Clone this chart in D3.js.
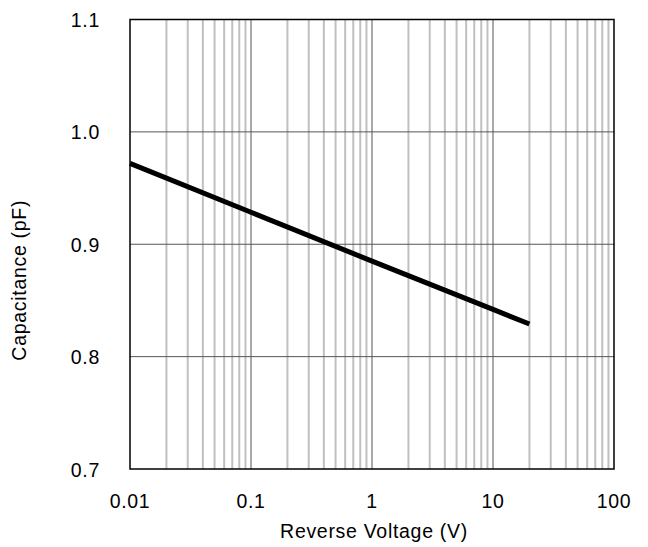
<!DOCTYPE html>
<html>
<head>
<meta charset="utf-8">
<script src="https://cdn.jsdelivr.net/npm/d3@7"></script>
<style>
  body { margin: 0; background: #fff; }
  svg text { font-family: "Liberation Sans", Arial, sans-serif; fill: #000; font-size: 19.5px; letter-spacing: 0.7px; }
</style>
</head>
<body>
<div class="js-vis"></div>
<script>
// curve
const voltage = [0.01, 0.1, 1, 10, 20]
const capacitance = [0.972, 0.9285, 0.885, 0.842, 0.829]

const xTicks = [0.01, 0.1, 1, 10, 100]
const xTickLabels = ['0.01', '0.1', '1', '10', '100']
const yTicks = [0.7, 0.8, 0.9, 1.0, 1.1]
const yTickLabels = ['0.7', '0.8', '0.9', '1.0', '1.1']

const W = 648, H = 547
const margin = { top: 19.5, right: 34, bottom: 78, left: 130 },
    width = W - margin.left - margin.right,
    height = H - margin.top - margin.bottom

const svg = d3.select('.js-vis').append('svg')
    .attr('width', W)
    .attr('height', H)

const vis = svg.append('g')
    .attr('transform', 'translate(' + margin.left + ',' + margin.top + ')')

const x = d3.scaleLog()
  .domain([0.01, 100])
  .range([0, width])

const y = d3.scaleLinear()
  .domain([0.7, 1.1])
  .range([height, 0])

// minor vertical grid
let minor = []
xTicks.slice(0, -1).forEach(function(d) {
  for (let k = 2; k <= 9; k++) minor.push(d * k)
})

vis.selectAll('.minor')
  .data(minor)
.enter().append('line')
  .attr('class', 'minor')
  .attr('x1', d => x(d)).attr('x2', d => x(d))
  .attr('y1', 0).attr('y2', height)
  .attr('stroke', '#c0c0c0')
  .attr('stroke-width', 2)

vis.selectAll('.vmajor')
  .data(xTicks.slice(1, -1))
.enter().append('line')
  .attr('class', 'vmajor')
  .attr('x1', d => x(d)).attr('x2', d => x(d))
  .attr('y1', 0).attr('y2', height)
  .attr('stroke', '#555')
  .attr('stroke-width', 1)

vis.selectAll('.hmajor')
  .data(yTicks.slice(1, -1))
.enter().append('line')
  .attr('class', 'hmajor')
  .attr('x1', 0).attr('x2', width)
  .attr('y1', d => y(d)).attr('y2', d => y(d))
  .attr('stroke', '#555')
  .attr('stroke-width', 1)

// data line
const line = d3.line()
  .x((d, i) => x(voltage[i]))
  .y(d => y(d))

vis.append('path')
  .datum(capacitance)
  .attr('d', line)
  .attr('fill', 'none')
  .attr('stroke', '#000')
  .attr('stroke-width', 5)

// frame
vis.append('rect')
  .attr('width', width)
  .attr('height', height)
  .attr('fill', 'none')
  .attr('stroke', '#000')
  .attr('stroke-width', 1.5)

// tick labels
vis.selectAll('.xlab')
  .data(xTicks)
.enter().append('text')
  .attr('x', d => x(d))
  .attr('y', height + 39)
  .attr('text-anchor', 'middle')
  .text((d, i) => xTickLabels[i])

vis.selectAll('.ylab')
  .data(yTicks)
.enter().append('text')
  .attr('x', -30)
  .attr('y', d => y(d) + 7.5)
  .attr('text-anchor', 'end')
  .text((d, i) => yTickLabels[i])

// axis titles
vis.append('text')
  .attr('x', width / 2 + 2)
  .attr('y', height + 69)
  .attr('text-anchor', 'middle')
  .text('Reverse Voltage (V)')

vis.append('text')
  .attr('transform', 'translate(' + (-104) + ',' + (height / 2 + 36) + ') rotate(-90)')
  .attr('text-anchor', 'middle')
  .text('Capacitance (pF)')
</script>
</body>
</html>
